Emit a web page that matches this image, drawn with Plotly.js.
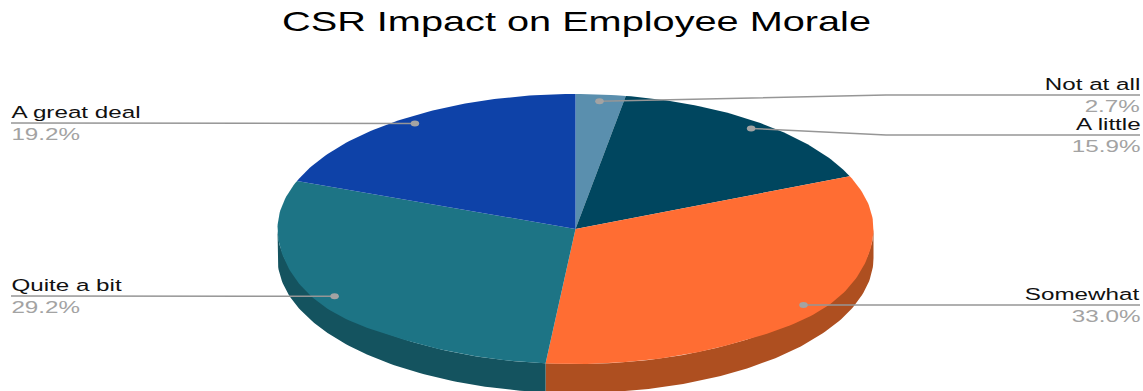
<!DOCTYPE html>
<html>
<head>
<meta charset="utf-8">
<script src="https://cdn.plot.ly/plotly-3.0.1.min.js"></script>
<style>
  html, body { margin: 0; padding: 0; background: #fff; overflow: hidden; width: 1143px; height: 391px; }
  /* The drawing is laid out narrow and widened, which gives the broad lettering. */
  #chart { width: 803px; height: 391px; transform-origin: 0 0; transform: scaleX(1.42341); }
</style>
</head>
<body>
<div id="chart"></div>
<script>
const categories = ["Not at all", "A little", "Somewhat", "Quite a bit", "A great deal"];
const shares = [2.7, 15.9, 33.0, 29.2, 19.2];
const topColors = ["#5a8fae", "#00465f", "#ff6d33", "#1d7485", "#0e42a8"];
const wallColors = ["#3f657a", "#003142", "#ae4f20", "#14535f", "#0a2e75"];

// Pie geometry in chart pixels: tilted disc centre, radii and rim height.
const cx = 575.5, cy = 229, rx = 298, ry = 135, depth = 29;
const dotRadius = 0.95;
const cornerSag = 5;

// Where each leader ends, its optional elbow, and its side of the chart.
const leaderEndX = { left: 11, right: 1140 };
const labelEdgeX = { left: 9.5, right: 1141.5 };
const leaderLevel = [95, 135, 305, 296, 123];
const elbowX = [886, 886, null, null, null];

const pointAt = (deg, r = 1, drop = 0) => {
  const a = deg * Math.PI / 180;
  return [cx + r * rx * Math.sin(a), cy - r * ry * Math.cos(a) + drop];
};
const arc = (from, to, drop = () => 0) => {
  const steps = Math.max(2, Math.ceil(Math.abs(to - from)));
  const pts = [];
  for (let i = 0; i <= steps; i++) {
    const deg = from + (to - from) * i / steps;
    pts.push(pointAt(deg, 1, drop(deg)));
  }
  return pts;
};
// The near edge of the face sits a little lower at the disc's front corners.
const faceDrop = deg => {
  const nearCorner = (deg > 90 && deg < 150) || (deg > 210 && deg < 270);
  return nearCorner ? cornerSag * Math.sin(3 * (deg - 90) * Math.PI / 180) ** 2 : 0;
};
const polygon = (pts, color) => ({
  type: "scatter", mode: "lines", fill: "toself", fillcolor: color,
  x: pts.map(p => p[0]), y: pts.map(p => p[1]),
  line: { width: 0, color: color }, hoverinfo: "skip", showlegend: false
});

// Turn the shares into start and end angles, clockwise from twelve o'clock.
const total = shares.reduce((a, b) => a + b, 0);
let running = 0;
const spans = shares.map(v => {
  const start = running / total * 360;
  running += v;
  return [start, running / total * 360];
});

const traces = [];

// Rim: only the part of each slice on the near half of the disc shows.
spans.forEach(([s, e], i) => {
  const from = Math.max(s, 90), to = Math.min(e, 270);
  if (to > from) traces.push(polygon([...arc(from, to), ...arc(to, from, () => depth)], wallColors[i]));
});

// Top face of the pie.
spans.forEach(([s, e], i) => {
  traces.push(polygon([[cx, cy], ...arc(s, e, faceDrop), [cx, cy]], topColors[i]));
});

// Leader lines with a dot on each slice, and their labels.
const annotations = [];
spans.forEach(([s, e], i) => {
  const mid = (s + e) / 2;
  const dot = pointAt(mid, dotRadius);
  const side = mid > 180 ? "left" : "right";
  const level = leaderLevel[i];
  const xs = [dot[0]], ys = [dot[1]];
  if (elbowX[i] !== null) { xs.push(elbowX[i]); ys.push(level); }
  xs.push(leaderEndX[side]); ys.push(level);
  traces.push({
    type: "scatter", mode: "lines", x: xs, y: ys,
    line: { color: "#969696", width: 1.5 }, hoverinfo: "skip", showlegend: false
  });
  traces.push({
    type: "scatter", mode: "markers", x: [dot[0]], y: [dot[1]],
    marker: { color: "#a3a3a3", size: 6 }, hoverinfo: "skip", showlegend: false
  });
  annotations.push({
    xref: "x", yref: "y", x: labelEdgeX[side], y: level - 11, text: categories[i],
    xanchor: side, yanchor: "middle", showarrow: false, borderpad: 0,
    font: { family: "Liberation Sans, Arial, sans-serif", size: 17, color: "#111111" }
  });
  annotations.push({
    xref: "x", yref: "y", x: labelEdgeX[side], y: level + 11, text: shares[i].toFixed(1) + "%",
    xanchor: side, yanchor: "middle", showarrow: false, borderpad: 0,
    font: { family: "Liberation Sans, Arial, sans-serif", size: 17, color: "#a3a3a3" }
  });
});

const layout = {
  width: 803, height: 391,
  margin: { l: 0, r: 0, t: 0, b: 0 },
  paper_bgcolor: "#ffffff", plot_bgcolor: "#ffffff",
  showlegend: false,
  title: {
    text: "CSR Impact on Employee Morale",
    font: { family: "Liberation Sans, Arial, sans-serif", size: 27.9, color: "#000000" },
    xref: "paper", yref: "paper", x: 576.5 / 1143, y: 1 - 21 / 391,
    xanchor: "center", yanchor: "middle"
  },
  xaxis: { range: [0, 1143], visible: false, fixedrange: true },
  yaxis: { range: [391, 0], visible: false, fixedrange: true },
  annotations: annotations
};

Plotly.newPlot("chart", traces, layout, { displayModeBar: false, staticPlot: true });
</script>
</body>
</html>
